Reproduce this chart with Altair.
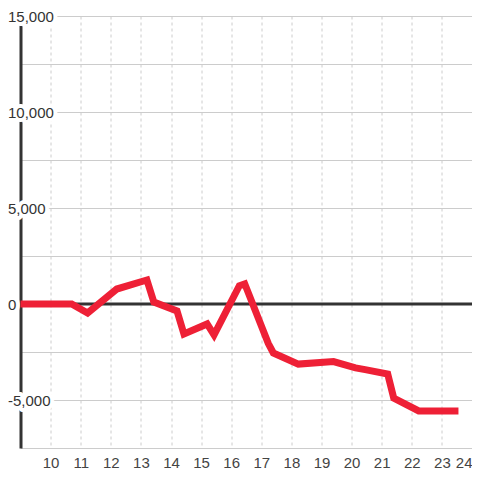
import altair as alt
import pandas as pd

# Series
hours = [9, 10.7, 11.23, 12.2, 13.2, 13.43, 14.2, 14.43, 15.2, 15.43, 16.27, 16.45,
         17.23, 17.4, 18.23, 19.4, 20.13, 20.45, 21.2, 21.4, 22.23, 23.55]
values = [0, 0, -470, 780, 1250, 100, -360, -1560, -1040, -1610, 950, 1050,
          -2050, -2550, -3130, -3000, -3330, -3420, -3650, -4900, -5570, -5570]

x_ticks = list(range(10, 25))
y_grid = [-7500, -5000, -2500, 0, 2500, 5000, 7500, 10000, 12500, 15000]
y_label_values = [15000, 10000, 5000, 0, -5000]
y_label_texts = ["15,000", "10,000", "5,000", "0", "-5,000"]
zero_value = [0]

df = pd.DataFrame({"hour": hours, "value": values})
labels_df = pd.DataFrame({"value": y_label_values, "label": y_label_texts})
zero_df = pd.DataFrame({"value": zero_value})

FONT = "Liberation Sans"
xscale = alt.Scale(domain=[9, 24], nice=False, zero=False)
yscale = alt.Scale(domain=[-7500, 15000], nice=False, zero=False)

x_axis = alt.Axis(values=x_ticks, grid=True, gridDash=[3, 3], gridColor="#cccccc",
                  gridWidth=1, domain=False, ticks=False, tickSize=0, labelPadding=7,
                  labelFontSize=15, labelColor="#444444", labelFont=FONT, title=None,
                  labelAngle=0, labelFlush=True)
y_axis = alt.Axis(values=y_grid, grid=True, gridColor="#cccccc", gridWidth=1,
                  domain=True, domainColor="#333333", domainWidth=3, ticks=False,
                  tickSize=0, labels=False, title=None)

X = alt.X("hour:Q", scale=xscale, axis=x_axis)
Y = alt.Y("value:Q", scale=yscale, axis=y_axis)

zero = alt.Chart(zero_df).mark_rule(color="#333333", strokeWidth=3).encode(y=Y)

halo = alt.Chart(labels_df).mark_text(
    align="left", baseline="middle", dy=1, fontSize=15, font=FONT,
    color="white", stroke="white", strokeWidth=8, strokeJoin="round"
).encode(x=alt.value(-12.5), y=Y, text="label:N")

line = alt.Chart(df).mark_line(
    color="#ee2036", strokeWidth=7, strokeJoin="miter", strokeCap="butt"
).encode(x=X, y=Y)

labels = alt.Chart(labels_df).mark_text(
    align="left", baseline="middle", dy=1, fontSize=15, font=FONT, color="#333333"
).encode(x=alt.value(-12.5), y=Y, text="label:N")

chart = alt.layer(zero, halo, line, labels).properties(
    width=451.5, height=432,
    autosize=alt.AutoSizeParams(type="none"),
    padding={"left": 12.5, "top": 8, "right": 0, "bottom": 22},
    background="white",
).configure_view(stroke=None)

chart.save("out.html", embed_options={"renderer": "svg", "actions": False})
